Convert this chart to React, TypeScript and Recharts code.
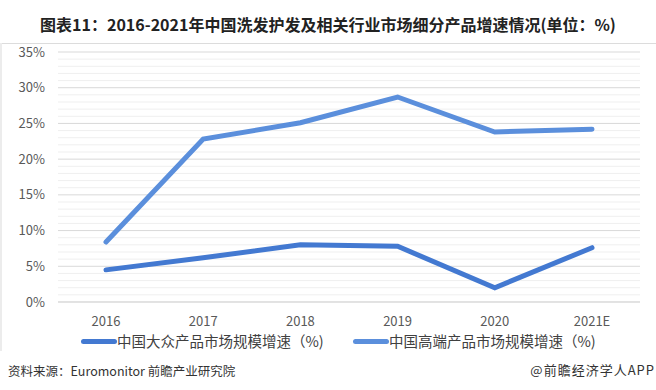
import React from "react";
import { LineChart, Line, XAxis, YAxis, CartesianGrid, ReferenceLine, Legend } from "recharts";

const years = ["2016", "2017", "2018", "2019", "2020", "2021E"];
const massGrowth = [4.5, 6.2, 8.0, 7.8, 2.0, 7.6];
const premiumGrowth = [8.4, 22.8, 25.1, 28.7, 23.8, 24.2];
const majorTicks = [0, 5, 10, 15, 20, 25, 30, 35];
const minorTicks = [1, 2, 3, 4, 6, 7, 8, 9, 11, 12, 13, 14, 16, 17, 18, 19, 21, 22, 23, 24, 26, 27, 28, 29, 31, 32, 33, 34];

const MASS = "#4379d1";
const PREMIUM = "#5b8fdc";
const FONT = "'Noto Sans CJK SC', 'Noto Sans', sans-serif";

const data = years.map((y, i) => ({ year: y, mass: massGrowth[i], premium: premiumGrowth[i] }));

function LegendRow() {
  const items = [
    { label: "中国大众产品市场规模增速（%)", color: MASS },
    { label: "中国高端产品市场规模增速（%)", color: PREMIUM },
  ];
  return (
    <div style={{ display: "flex", fontFamily: FONT, fontSize: 14.5, color: "#404040", lineHeight: "18px" }}>
      {items.map((it, i) => (
        <div key={i} style={{ display: "flex", alignItems: "center", marginLeft: i === 0 ? 73 : 0, width: 272 }}>
          <span style={{ display: "inline-block", width: 36, height: 5, borderRadius: 3, background: it.color }} />
          <span style={{ whiteSpace: "nowrap" }}>{it.label}</span>
        </div>
      ))}
    </div>
  );
}

export default function App() {
  return (
    <div style={{ position: "absolute", left: 0, top: 0, width: 656, height: 390, background: "#fff", fontFamily: FONT }}>
      <div style={{ position: "absolute", left: 0, top: 12, width: 656, textAlign: "center", fontSize: 16, fontWeight: 700, color: "#222" }}>
        图表11：2016-2021年中国洗发护发及相关行业市场细分产品增速情况(单位：%)
      </div>
      <div style={{ position: "absolute", left: 0, top: 43, width: 656, height: 1, background: "#dcdcdc" }} />
      <div style={{ position: "absolute", left: 0, top: 43, width: 2, height: 308, background: "#ececec" }} />
      <div style={{ position: "absolute", left: 0, top: 40 }}>
        <LineChart width={656} height={312} data={data} margin={{ top: 12, right: 16, left: 8, bottom: 0 }} style={{ overflow: "visible" }}>
          <CartesianGrid vertical={false} stroke="#d9d9d9" />
          {minorTicks.map((v) => (
            <ReferenceLine key={v} y={v} stroke="#efefef" ifOverflow="extendDomain" />
          ))}
          <XAxis
            dataKey="year"
            axisLine={{ stroke: "#d9d9d9" }}
            tickLine={false}
            tickMargin={9}
            height={30}
            padding={{ left: 48, right: 48 }}
            tick={{ fontSize: 13, fill: "#595959", fontFamily: FONT }}
          />
          <YAxis
            domain={[0, 35]}
            ticks={majorTicks}
            width={50}
            axisLine={false}
            tickLine={false}
            tickMargin={7}
            tickFormatter={(v) => `${v}%`}
            tick={{ fontSize: 13, fill: "#595959", fontFamily: FONT }}
          />
          <Legend verticalAlign="bottom" height={20} content={() => <LegendRow />} />
          <Line dataKey="mass" stroke={MASS} strokeWidth={5} dot={false} strokeLinecap="round" isAnimationActive={false} />
          <Line dataKey="premium" stroke={PREMIUM} strokeWidth={5} dot={false} strokeLinecap="round" isAnimationActive={false} />
        </LineChart>
      </div>
      <div style={{ position: "absolute", left: 8, top: 361, fontSize: 12.5, color: "#333" }}>资料来源：Euromonitor 前瞻产业研究院</div>
      <div style={{ position: "absolute", right: 1, top: 360, fontSize: 13, letterSpacing: 1, color: "#333" }}>@前瞻经济学人APP</div>
    </div>
  );
}
